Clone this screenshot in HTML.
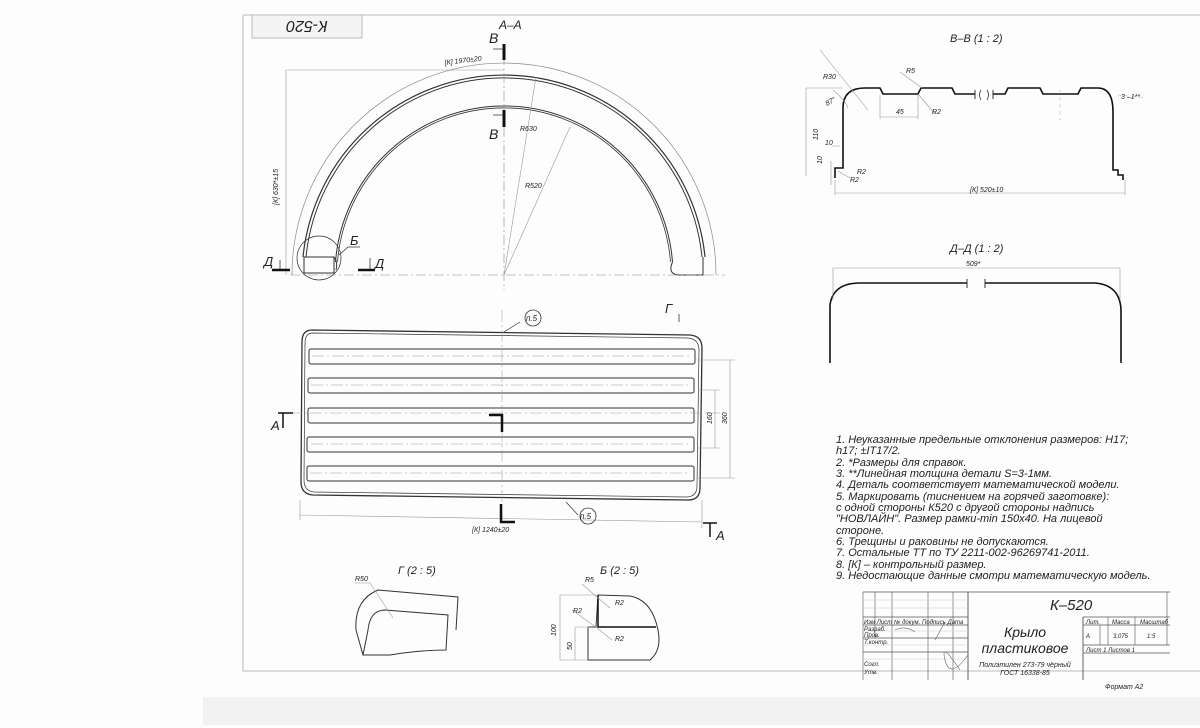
<!DOCTYPE html>
<html><head><meta charset="utf-8"><style>
html,body{margin:0;padding:0;background:#fff;}
svg{display:block;}
text{font-family:"Liberation Sans","DejaVu Sans",sans-serif;font-style:italic;fill:#222;}
</style></head><body>
<svg width="1200" height="728" viewBox="0 0 1200 728" xmlns="http://www.w3.org/2000/svg">
<rect width="1200" height="728" fill="#fdfdfd"/>
<rect x="203" y="697" width="997" height="28" fill="#f2f2f2"/>
<!-- frame -->
<path d="M243 15 H1200 M243 15 V671 H1200" stroke="#bbb" stroke-width="1" fill="none"/>
<rect x="252" y="15" width="110" height="23" fill="#f4f4f4" stroke="#bbb"/>
<text x="307" y="27" font-size="16" text-anchor="middle" transform="rotate(180 307 27)" dy="6">К-520</text>

<g fill="none" stroke="#333" stroke-width="1">
<!-- arc view -->
<path d="M292 275 A212 212 0 0 1 716 275" stroke="#888" stroke-width="0.7"/>
<path d="M303 257 A202 202 0 0 1 705 257" stroke-width="1.2"/>
<path d="M306 257 A199 199 0 0 1 702 257"/>
<path d="M335.5 262 A169 169 0 0 1 672.5 262"/>
<path d="M337.5 262 A167 167 0 0 1 670.5 262" stroke-width="0.8"/>
<rect x="304" y="257" width="30" height="16"/>
<path d="M334 257 Q338 262 336 270 M672.5 262 Q667 275 680 275 H703 V257"/>
<circle cx="319" cy="258" r="22" stroke-width="0.7"/>
<path d="M290 275 H725" stroke="#888" stroke-width="0.6" stroke-dasharray="10 3 2 3"/>
<path d="M504 55 V290" stroke="#888" stroke-width="0.6" stroke-dasharray="10 3 2 3"/>
<path d="M286 70 V275 M286 70 H504" stroke="#999" stroke-width="0.6"/>
<path d="M504 275 L536 77 M504 275 L570 127" stroke="#999" stroke-width="0.6"/>
<path d="M504 44 V60 M504 110 V127" stroke="#111" stroke-width="3"/>
<path d="M493 49 H503 M493 115 H503" stroke-width="0.8"/>
<path d="M272 270 H290 M358 270 H375" stroke="#111" stroke-width="2.5"/>
<path d="M280 260 V269 M370 258 V269" stroke-width="0.8"/>
<path d="M339 255 L348 247 H360" stroke-width="0.7"/>

<!-- top rectangle view -->
<path d="M312 330 L690 335 Q702 336 702 348 L700 488 Q700 500 688 500 L313 495 Q301 494 301 482 L302 342 Q302 330 312 330 Z" stroke-width="1.3"/>
<path d="M313 333 L688 338 Q699 339 699 350 L697 486 Q697 497 686 497 L314 492 Q304 491 304 480 L305 343 Q305 333 313 333 Z" stroke-width="0.7"/>
<rect x="309" y="349" width="386" height="15" rx="2"/>
<rect x="308" y="378" width="386" height="15" rx="2"/>
<rect x="308" y="408" width="386" height="15" rx="2"/>
<rect x="307" y="437" width="387" height="15" rx="2"/>
<rect x="307" y="466" width="387" height="15" rx="2"/>
<g stroke="#999" stroke-width="0.5" stroke-dasharray="12 3 2 3">
<path d="M312 356 H690 M311 385 H690 M290 413 H720 M311 444 H690 M310 473 H690"/>
<path d="M502 310 V520"/>
</g>
<path d="M300 500 V520 M702 500 V528 M300 515 L702 522 M698 360 H735 M698 478 H735 M730 360 V478 M698 390 H720 M698 448 H720 M715 390 V448" stroke="#999" stroke-width="0.6"/>
<path d="M489 415 H502 V432 M501 504 V522 H515" stroke="#111" stroke-width="2.5"/>
<path d="M278 413 H293 M283 413 V428 M703 523 H717 M710 523 V537" stroke="#111" stroke-width="1.5"/>
<path d="M679 314 V322" stroke-width="0.8"/>
<path d="M504 332 L520 322 M578 515 L566 502" stroke-width="0.7"/>
<circle cx="533" cy="318" r="8" stroke-width="0.8"/>
<circle cx="588" cy="516" r="8" stroke-width="0.8"/>

<!-- В-В -->
<path d="M835 178 V168 H843 V108 Q843 88 865 88 H880 L883 94 H918 L921 88 H952 L955 94 H975 M993 94 H1005 L1008 88 H1040 L1043 94 H1078 L1081 88 H1098 Q1113 88 1113 112 V170 H1118 V175 H1123 V180" stroke="#111" stroke-width="1.6"/>
<path d="M975 90 V99 M993 90 V99" stroke-width="1"/>
<path d="M981 90 Q978 95 981 100 M987 90 Q990 95 987 100" stroke-width="0.8"/>
<path d="M806 88 H843 M806 88 V176 M835 193 H1125 M835 180 V195 M1125 180 V195 M880 95 V119 M918 95 V119 M880 117 H918 M820 50 L868 110 M833 90 Q845 100 848 108" stroke="#999" stroke-width="0.6"/>
<path d="M900 72 L922 88 M918 94 L935 114 M832 146 H840 M831 161 V185 M838 171 L850 178" stroke="#999" stroke-width="0.6"/>
<path d="M1060 90 V120 M1118 95 L1145 98" stroke="#aaa" stroke-width="0.5" stroke-dasharray="4 3"/>

<!-- Д-Д -->
<path d="M830 363 V305 Q833 283 860 283 H967 M985 283 H1095 Q1120 285 1121 310 V363" stroke="#111" stroke-width="1.6"/>
<path d="M967 279 V288 M985 279 V288" stroke-width="1"/>
<path d="M833 268 H1120 M833 268 V300 M1120 268 V300" stroke="#999" stroke-width="0.6"/>

<!-- Г view -->
<path d="M363 655 L356 630 Q354 600 378 590 L458 597 L456 630" stroke-width="1"/>
<path d="M363 655 L368 630 Q370 610 385 610 L448 615 L446 650 Q420 650 390 655 Z" stroke-width="1"/>
<path d="M355 583 H370 L393 618" stroke="#999" stroke-width="0.6"/>
<!-- Б view -->
<path d="M598 595 L596 627 H588 V660 H650 Q662 650 658 630 Q652 600 630 596 Z" stroke-width="1"/>
<path d="M598 595 V627 H656" stroke="#111" stroke-width="1.5"/>
<path d="M560 595 H598 M560 660 H588 M560 595 V660 M575 627 H590 M575 627 V660 M582 584 L598 598 L610 608 M572 610 L597 628 L612 640" stroke="#999" stroke-width="0.6"/>

<!-- title block -->
<g stroke="#555" stroke-width="0.8">
<path d="M863 592 H1170 M863 617 H968 M863 625 H968 M863 638 H968 M863 652 H968 M1083 617 H1170 M1083 625 H1170 M1083 645 H1170 M1083 653 H1170"/>
<path d="M863 592 V680 M875 592 V638 M892 592 V680 M928 592 V680 M953 592 V680 M968 592 V680 M1083 617 V680 M1100 625 V645 M1108 617 V645 M1135 617 V645 M1167 592 V645" stroke-width="0.6"/>
<path d="M968 592 V680 M1083 617 V680"/>
<path d="M863 600 H968 M863 608 H968 M863 631 H968 M863 645 H968 M863 659 H968" stroke="#ccc" stroke-width="0.5"/>
</g>
</g>

<!-- labels -->
<g font-size="12">
<text x="499" y="29">А–А</text>
<text x="489" y="43" font-size="14">В</text>
<text x="489" y="139" font-size="14">В</text>
<text x="264" y="266" font-size="13">Д</text>
<text x="375" y="268" font-size="13">Д</text>
<text x="350" y="245" font-size="13">Б</text>
<text x="271" y="430" font-size="13">А</text>
<text x="716" y="540" font-size="13">А</text>
<text x="665" y="313" font-size="13">Г</text>
<text x="950" y="42" font-size="11">В–В  (1 : 2)</text>
<text x="950" y="252" font-size="11">Д–Д  (1 : 2)</text>
<text x="398" y="574" font-size="11">Г (2 : 5)</text>
<text x="600" y="574" font-size="11">Б  (2 : 5)</text>
</g>
<g font-size="7" fill="#555">
<text x="445" y="65" transform="rotate(-7 445 65)">[К] 1970±20</text>
<text x="278" y="205" transform="rotate(-90 278 205)">[К] 630*±15</text>
<text x="520" y="131">R630</text>
<text x="525" y="188">R520</text>
<text x="526" y="321" font-size="8">п.5</text>
<text x="580" y="519" font-size="8">п.5</text>
<text x="472" y="532">[К] 1240±20</text>
<text x="712" y="424" transform="rotate(-90 712 424)">160</text>
<text x="727" y="424" transform="rotate(-90 727 424)">360</text>
<text x="823" y="79">R30</text>
<text x="906" y="73">R5</text>
<text x="932" y="114">R2</text>
<text x="896" y="114">45</text>
<text x="827" y="106" transform="rotate(-30 827 106)">87°</text>
<text x="818" y="140" transform="rotate(-90 818 140)">110</text>
<text x="825" y="145">10</text>
<text x="822" y="164" transform="rotate(-90 822 164)">10</text>
<text x="857" y="174">R2</text>
<text x="850" y="182">R2</text>
<text x="970" y="192">[К] 520±10</text>
<text x="1121" y="99">3 –1**</text>
<text x="966" y="266">509*</text>
<text x="355" y="581">R50</text>
<text x="585" y="582">R5</text>
<text x="615" y="605">R2</text>
<text x="573" y="613">R2</text>
<text x="615" y="641">R2</text>
<text x="556" y="636" transform="rotate(-90 556 636)">100</text>
<text x="572" y="650" transform="rotate(-90 572 650)">50</text>
</g>

<!-- notes -->
<g font-size="11" fill="#222">
<text x="836" y="443">1.  Неуказанные предельные отклонения размеров: H17;</text>
<text x="836" y="454">h17;  ±IT17/2.</text>
<text x="836" y="466">2.  *Размеры для справок.</text>
<text x="836" y="477">3.  **Линейная толщина детали S=3-1мм.</text>
<text x="836" y="488">4.  Деталь соответствует математической модели.</text>
<text x="836" y="500">5.  Маркировать (тиснением на горячей заготовке):</text>
<text x="836" y="511">с одной стороны К520 с другой стороны надпись</text>
<text x="836" y="522">"НОВЛАЙН". Размер рамки-min 150х40. На лицевой</text>
<text x="836" y="534">стороне.</text>
<text x="836" y="545">6.  Трещины и раковины не допускаются.</text>
<text x="836" y="556">7.  Остальные ТТ по ТУ 2211-002-96269741-2011.</text>
<text x="836" y="568">8.  [К] – контрольный размер.</text>
<text x="836" y="579">9.  Недостающие данные смотри математическую модель.</text>
</g>

<!-- title block texts -->
<text x="1050" y="610" font-size="15">К–520</text>
<text x="1025" y="637" font-size="14" text-anchor="middle">Крыло</text>
<text x="1025" y="653" font-size="14" text-anchor="middle">пластиковое</text>
<text x="1025" y="667" font-size="7" text-anchor="middle">Полиэтилен 273-79 чёрный</text>
<text x="1025" y="675" font-size="7" text-anchor="middle">ГОСТ 16338-85</text>
<g font-size="6">
<text x="864" y="624">Изм Лист  №  докум. Подпись Дата</text>
<text x="864" y="631">Разраб.</text>
<text x="864" y="637">Пров.</text>
<text x="864" y="644">Т.контр.</text>
<text x="864" y="666">Согл.</text>
<text x="864" y="674">Утв.</text>
<text x="1086" y="624">Лит.</text>
<text x="1112" y="624">Масса</text>
<text x="1140" y="624">Масштаб</text>
<text x="1086" y="638">А</text>
<text x="1113" y="638">3,075</text>
<text x="1147" y="638">1:5</text>
<text x="1086" y="652">Лист   1  Листов   1</text>
<text x="1105" y="689" font-size="7">Формат   А2</text>
</g>
<path d="M895 630 Q905 625 915 632 M935 640 L945 622 M960 670 Q940 640 945 660 Q950 680 968 655" stroke="#666" stroke-width="0.6" fill="none"/>
</svg>
</body></html>
